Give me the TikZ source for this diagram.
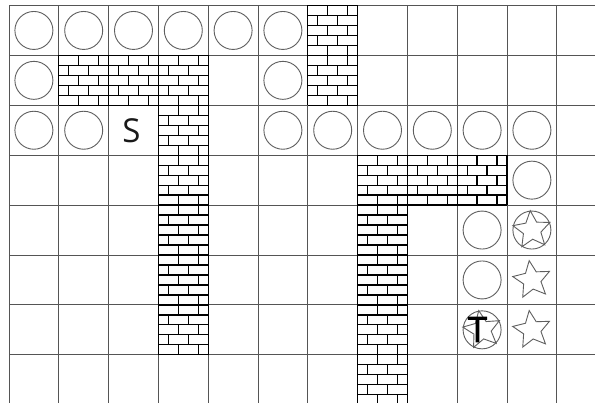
\documentclass[tikz,border=0pt]{standalone}
\usepackage{fontspec}
\setmainfont{Open Sans}
\definecolor{gridc}{RGB}{85,85,85}
\definecolor{shapec}{RGB}{95,95,95}
\tikzset{
  gridline/.style={draw=gridc,line width=0.9pt},
  brickline/.style={draw=black,line width=1.25pt},
  ring/.style={draw=shapec,line width=0.9pt},
  starline/.style={draw=shapec,line width=0.9pt,line join=miter},
  letter/.style={inner sep=0pt,text=black!90}
}
\newcommand\brickcell[2]{%
  \pgfmathsetmacro\bx{9+49.8*#1}%
  \pgfmathsetmacro\by{5.5+49.9*#2}%
  \begin{scope}[shift={(\bx,\by)}]
    \fill[white] (0,0) rectangle (49.8,49.9);
    \foreach \k in {0,...,5} \draw[brickline] (0,{\k*9.98}) -- (49.8,{\k*9.98});
    \draw[brickline] (0,0) -- (0,49.9) (49.8,0) -- (49.8,49.9);
    \foreach \k in {0,2,4} \draw[brickline] (19.92,{\k*9.98}) -- ++(0,9.98) (39.84,{\k*9.98}) -- ++(0,9.98);
    \foreach \k in {1,3} \draw[brickline] (9.96,{\k*9.98}) -- ++(0,9.98) (29.88,{\k*9.98}) -- ++(0,9.98);
  \end{scope}}
\newcommand\ringcell[2]{%
  \draw[ring] ({9+49.8*(#1+0.5)},{5.5+49.9*(#2+0.5)}) circle (19);}
\newcommand\starcell[3]{%
  \begin{scope}[shift={({9+49.8*(#1+0.5)},{5.5+49.9*(#2+0.5)})},yscale=-1]
    \draw[starline] ({90+#3}:19.5)
      \foreach \i in {0,...,4} { -- ({90+#3+36+72*\i}:9.2) -- ({90+#3+72*(\i+1)}:19.5) } -- cycle;
  \end{scope}}
\begin{document}
\begin{tikzpicture}[x=1pt,y=-1pt]
  \useasboundingbox (0,0) rectangle (595,403);
  \clip (0,0) rectangle (595,403);
  \fill[white] (0,0) rectangle (595,403);
  % grid
  \foreach \r in {0,...,7} \draw[gridline] (9,{5.5+49.9*\r}) -- (595,{5.5+49.9*\r});
  \foreach \c in {0,...,11} \draw[gridline] ({9+49.8*\c},5.5) -- ({9+49.8*\c},403);
  % bricks
  \foreach \c/\r in {6/0,6/1,1/1,2/1,3/1,3/2,3/3,3/4,3/5,3/6,7/3,8/3,9/3,7/4,7/5,7/6,7/7}
    {\brickcell{\c}{\r}}
  % circles
  \foreach \c/\r in {0/0,1/0,2/0,3/0,4/0,5/0,0/1,5/1,0/2,1/2,5/2,6/2,7/2,8/2,9/2,10/2,10/3,9/4,10/4,9/5,9/6}
    {\ringcell{\c}{\r}}
  % stars
  \starcell{10}{4}{5}
  \starcell{10}{5}{8}
  \starcell{10}{6}{8}
  \starcell{9}{6}{10}
  % letters
  \node[letter,font=\fontsize{33}{33}\selectfont] (S) at (131.5,130.5) {S};
  \node[letter,text=black,font=\fontsize{35}{35}\selectfont\addfontfeature{FakeBold=2}] (T) at (477.5,329.5) {T};
\end{tikzpicture}
\end{document}
